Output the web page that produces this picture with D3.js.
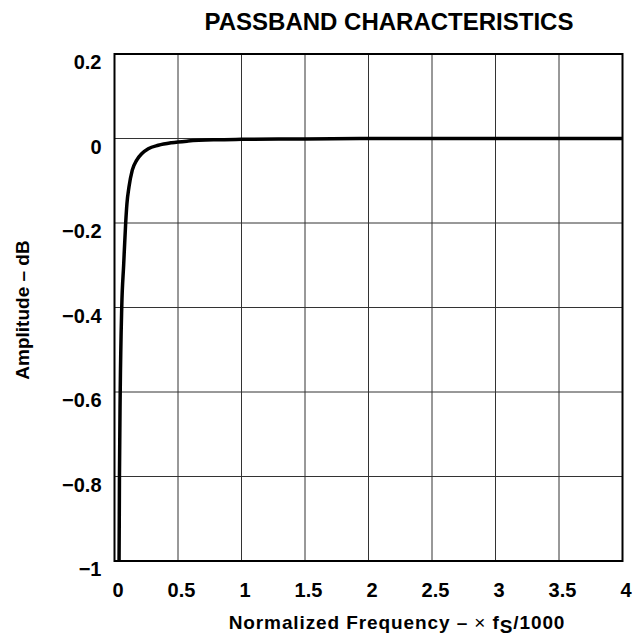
<!DOCTYPE html>
<html>
<head>
<meta charset="utf-8">
<script src="https://cdnjs.cloudflare.com/ajax/libs/d3/7.8.5/d3.min.js"></script>
<style>
  body { margin: 0; background: #fff; }
  svg text { font-family: "Liberation Sans", Arial, Helvetica, sans-serif; font-weight: bold; fill: #000; }
</style>
</head>
<body>
<svg id="chart" width="634" height="637"></svg>
<script>
// data
const freq = [0.030, 0.036, 0.039, 0.045, 0.057, 0.072, 0.088, 0.098, 0.114, 0.14, 0.175, 0.214, 0.266, 0.345, 0.45, 0.58, 0.8, 1.0, 1.5, 2.0, 3.0, 4.0];
const ampl = [-1.1, -1.0, -0.8, -0.6, -0.4, -0.3, -0.2, -0.154, -0.115, -0.075, -0.051, -0.036, -0.024, -0.016, -0.010, -0.006, -0.003, -0.002, -0.001, 0, 0, 0];
const xTicks = [0, 0.5, 1, 1.5, 2, 2.5, 3, 3.5, 4];
const yTicks = [0.2, 0, -0.2, -0.4, -0.6, -0.8, -1];

const svg = d3.select("#chart");
const margin = { top: 54, left: 114.5 };
const w = 508, h = 507;
const g = svg.append("g").attr("transform", "translate(" + margin.left + "," + margin.top + ")");

const x = d3.scaleLinear().domain([0, 4]).range([0, w]);
const y = d3.scaleLinear().domain([-1, 0.2]).range([h, 0]);

// grid
g.selectAll(".vgrid").data(xTicks).enter().append("line")
  .attr("x1", d => x(d)).attr("x2", d => x(d))
  .attr("y1", 0).attr("y2", h)
  .attr("stroke", "#333").attr("stroke-width", 1);
g.selectAll(".hgrid").data(yTicks).enter().append("line")
  .attr("x1", 0).attr("x2", w)
  .attr("y1", d => y(d)).attr("y2", d => y(d))
  .attr("stroke", "#333").attr("stroke-width", 1);

// curve, clipped to plot
svg.append("clipPath").attr("id", "clip").append("rect")
  .attr("x", 0).attr("y", 0).attr("width", w).attr("height", h);
const pts = freq.map((f, i) => [f, ampl[i]]);
const line = d3.line().x(d => x(d[0])).y(d => y(d[1])).curve(d3.curveMonotoneX);
g.append("path").datum(pts)
  .attr("clip-path", "url(#clip)")
  .attr("fill", "none").attr("stroke", "#000").attr("stroke-width", 3.5)
  .attr("d", line);

// frame
g.append("rect").attr("x", 0).attr("y", 0).attr("width", w).attr("height", h)
  .attr("fill", "none").attr("stroke", "#000").attr("stroke-width", 2);

// tick labels
const fmt = d => d < 0 ? "\u2212" + String(-d) : String(d);
g.selectAll(".ylab").data(yTicks).enter().append("text")
  .attr("x", -13).attr("y", d => y(d) + 15)
  .attr("text-anchor", "end").attr("font-size", 20)
  .text(fmt);
g.selectAll(".xlab").data(xTicks).enter().append("text")
  .attr("x", d => x(d) + 3.5).attr("y", h + 36)
  .attr("text-anchor", "middle").attr("font-size", 20)
  .text(fmt);

// titles
svg.append("text").attr("x", 389).attr("y", 29.5)
  .attr("text-anchor", "middle").attr("font-size", 24)
  .text("PASSBAND CHARACTERISTICS");

const xt = svg.append("text").attr("x", 397).attr("y", 629)
  .attr("text-anchor", "middle").attr("font-size", 19)
  .attr("letter-spacing", 0.9);
xt.append("tspan").text("Normalized Frequency \u2013 ");
xt.append("tspan").attr("font-weight", "normal").text("\u00d7");
xt.append("tspan").text(" f");
xt.append("tspan").attr("dy", 4).text("S");
xt.append("tspan").attr("dy", -4).text("/1000");

svg.append("text")
  .attr("transform", "translate(29,310) rotate(-90)")
  .attr("text-anchor", "middle").attr("font-size", 19)
  .text("Amplitude \u2013 dB");
</script>
</body>
</html>
